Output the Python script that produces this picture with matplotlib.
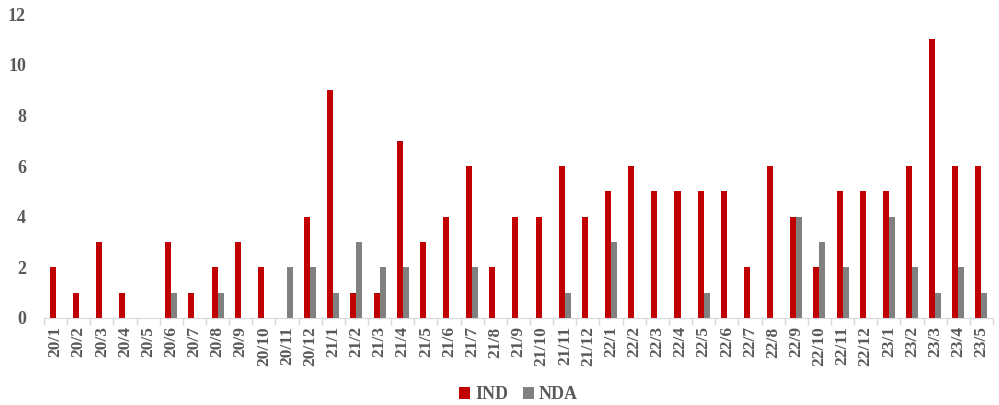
import numpy as np
import matplotlib.pyplot as plt

# 月份标签
months = ['20/1', '20/2', '20/3', '20/4', '20/5', '20/6', '20/7', '20/8', '20/9', '20/10',
          '20/11', '20/12', '21/1', '21/2', '21/3', '21/4', '21/5', '21/6', '21/7', '21/8',
          '21/9', '21/10', '21/11', '21/12', '22/1', '22/2', '22/3', '22/4', '22/5', '22/6',
          '22/7', '22/8', '22/9', '22/10', '22/11', '22/12', '23/1', '23/2', '23/3', '23/4',
          '23/5']
ind = [2, 1, 3, 1, 0, 3, 1, 2, 3, 2, 0, 4, 9, 1, 1, 7, 3, 4, 6, 2,
       4, 4, 6, 4, 5, 6, 5, 5, 5, 5, 2, 6, 4, 2, 5, 5, 5, 6, 11, 6, 6]
nda = [0, 0, 0, 0, 0, 1, 0, 1, 0, 0, 2, 2, 1, 3, 2, 2, 0, 0, 2, 0,
       0, 0, 1, 0, 3, 0, 0, 0, 1, 0, 0, 0, 4, 3, 2, 0, 4, 2, 1, 2, 1]

txt_color = '#595959'
plt.rcParams['font.family'] = ['Liberation Serif', 'DejaVu Serif']
plt.rcParams['font.weight'] = 'bold'

fig = plt.figure(figsize=(9.99, 4.05), dpi=100, facecolor='white')
ax = fig.add_axes([0.044, 0.215, 0.950, 0.750])

x = np.arange(len(months))
w = 0.26
ax.bar(x - w / 2, ind, w, color='#C00000', label='IND')
ax.bar(x + w / 2, nda, w, color='#808080', label='NDA')

ax.set_xlim(-0.5, len(months) - 0.5)
ax.set_ylim(0, 12)
ax.set_yticks(range(0, 13, 2))
ax.set_xticks(x)
ax.set_xticklabels(months, rotation=90, fontsize=12.5, color=txt_color, fontweight='bold')
# 类别之间的刻度线
ax.set_xticks(np.arange(-0.5, len(months), 1), minor=True)
ax.tick_params(axis='x', which='major', length=0, pad=6)
ax.tick_params(axis='x', which='minor', length=5, color='#D9D9D9', width=1)
ax.tick_params(axis='y', length=0, labelsize=13, labelcolor=txt_color, pad=13)
for lbl in ax.get_yticklabels():
    lbl.set_fontweight('bold')

for s in ['top', 'right', 'left']:
    ax.spines[s].set_visible(False)
ax.spines['bottom'].set_color('#D9D9D9')

leg = ax.legend(loc='lower center', bbox_to_anchor=(0.5, -0.335), ncol=2, frameon=False,
                fontsize=13, handlelength=0.6, handleheight=0.6, handletextpad=0.3,
                columnspacing=0.8)
for t in leg.get_texts():
    t.set_color(txt_color)
    t.set_fontweight('bold')

fig.savefig('out.png', dpi=100, facecolor='white')
